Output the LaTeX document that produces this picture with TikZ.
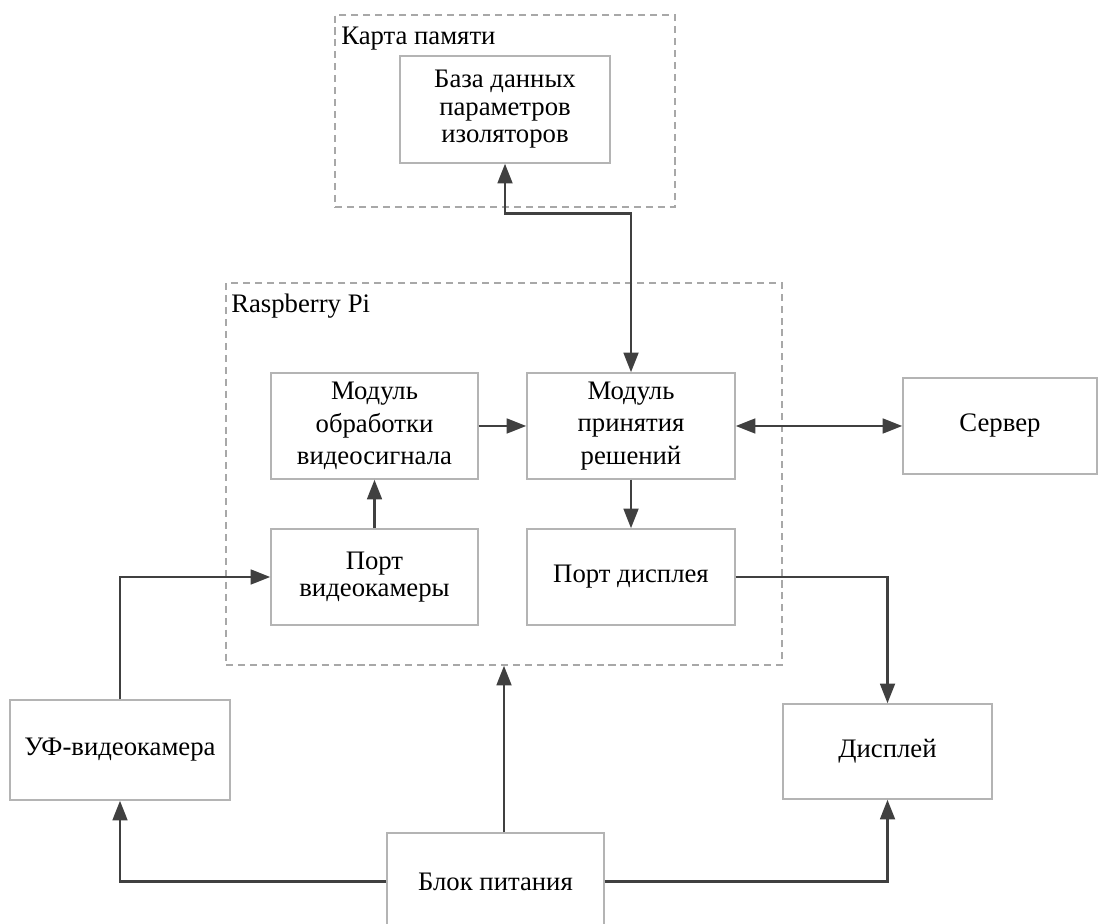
\documentclass[tikz,border=0pt]{standalone}
\usepackage{fontspec}
\setmainfont{Liberation Serif}
\usetikzlibrary{arrows.meta}
\usetikzlibrary{positioning}
\tikzset{>={Triangle[length=14pt,width=10.5pt]}}
\definecolor{boxgray}{HTML}{B4B4B4}
\definecolor{framegray}{HTML}{A8A8A8}
\definecolor{linkgray}{HTML}{404040}
\tikzset{
  blok/.style={draw=boxgray,line width=1pt,align=center,inner sep=2pt,
    font=\fontsize{19}{23}\selectfont},
  tesno/.style={font=\fontsize{19}{19.5}\selectfont},
  ramka/.style={draw=framegray,line width=1pt,dash pattern=on 5pt off 3.5pt,inner sep=0pt},
  svyaz/.style={draw=linkgray,line width=1.8pt},
  podpis/.style={anchor=base west,inner sep=0pt,font=\fontsize{19}{21}\selectfont},
}

\begin{document}
\begin{tikzpicture}[x=0.025cm,y=-0.025cm]
    \def\px{0.025cm}
    \useasboundingbox (0,0) rectangle (1099,924);
    % frames
    \node[ramka,minimum width=340*\px,minimum height=192*\px] (mem) at (505,111) {};
    \node[ramka,minimum width=556*\px,minimum height=382*\px] (rpi) at (504,474) {};
    \node[podpis] (memlbl) at (341,45) {Карта памяти};
    \node[podpis] (rpilbl) at (231,313) {Raspberry Pi};
    % blocks
    \node[blok,tesno,minimum width=210*\px,minimum height=107*\px] (db) at (505,109.5) {База данных\\параметров\\изоляторов};
    \node[blok,minimum width=207*\px,minimum height=106*\px] (proc) at (374.5,426) {Модуль\\обработки\\видеосигнала};
    \node[blok,minimum width=208*\px,minimum height=106*\px] (dec) at (631,426) {Модуль\\принятия\\решений};
    \node[blok,minimum width=194*\px,minimum height=96*\px] (srv) at (1000,426) {Сервер};
    \node[blok,tesno,minimum width=207*\px,minimum height=96*\px] (camport) at (374.5,577) {Порт\\видеокамеры};
    \node[blok,minimum width=208*\px,minimum height=96*\px] (dispport) at (631,577) {Порт дисплея};
    \node[blok,minimum width=220*\px,minimum height=100*\px] (uv) at (120,750) {УФ-видеокамера};
    \node[blok,minimum width=209*\px,minimum height=95*\px] (disp) at (887.5,751.5) {Дисплей};
    \node[blok,minimum width=217*\px,minimum height=97*\px] (psu) at (495.5,881.5) {Блок питания};
    % links
    \draw[svyaz,<->] (db.south) -- ++(0,50) -| (dec.north);
    \draw[svyaz,->] (proc.east) -- (dec.west);
    \draw[svyaz,<->] (dec.east) -- (srv.west);
    \draw[svyaz,->] (dec.south) -- (dispport.north);
    \draw[svyaz,->] (camport.north) -- (proc.south);
    \draw[svyaz,->] (uv.north) |- (camport.west);
    \draw[svyaz,->] (dispport.east) -| (disp.north);
    \draw[svyaz,->] (psu.north -| rpi.south) -- (rpi.south);
    \draw[svyaz,->] (psu.west) -| (uv.south);
    \draw[svyaz,->] (psu.east) -| (disp.south);
\end{tikzpicture}
\end{document}
